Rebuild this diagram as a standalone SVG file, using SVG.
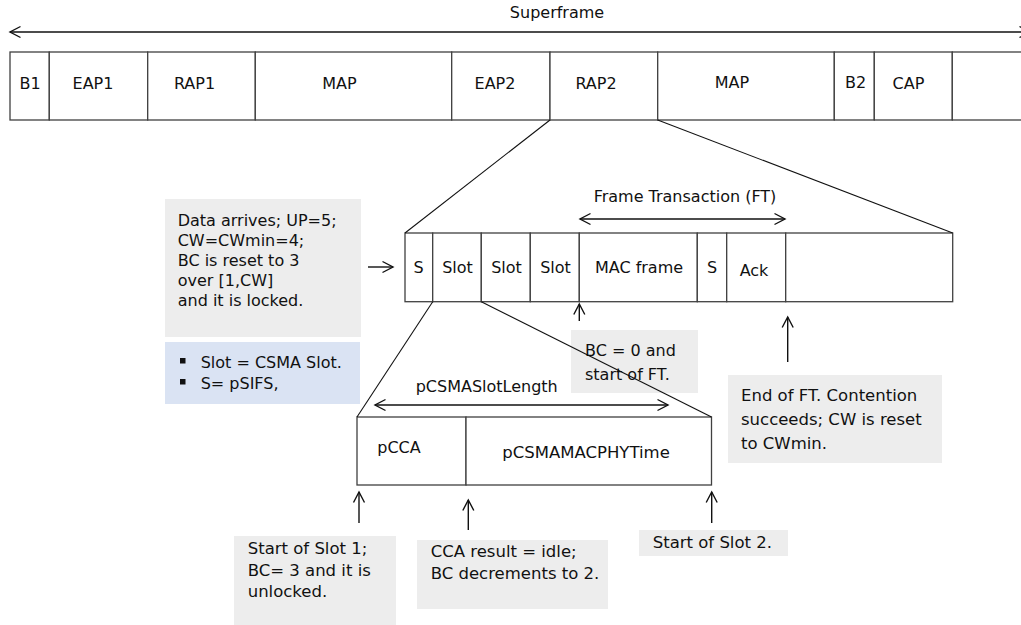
<svg xmlns="http://www.w3.org/2000/svg" width="1021" height="625" viewBox="0 0 1021 625">
<style>
  .t { font-family: "DejaVu Sans", "Liberation Sans", sans-serif; font-size: 16px; fill: #111; }
  .b { font-size: 16.5px; }
  .m { text-anchor: middle; }
  .cell { fill: #fff; stroke: #404040; stroke-width: 1.3; }
  .note { fill: #ededed; }
  .blue { fill: #dae3f3; }
  .ln { stroke: #111; stroke-width: 1.1; fill: none; }
  .arr { stroke: #111; stroke-width: 1.4; fill: none; }
  .dbl { marker-start: url(#ah); marker-end: url(#ah); }
  .one { marker-end: url(#ah); }
</style>
<defs>
  <marker id="ah" viewBox="0 0 12 12" refX="11.5" refY="6" markerWidth="12" markerHeight="12" markerUnits="userSpaceOnUse" orient="auto-start-reverse" style="overflow:visible">
    <path d="M1,0.5 L11.5,6 L1,11.5" fill="none" stroke="#111" stroke-width="1.4"/>
  </marker>
</defs>
<rect width="1021" height="625" fill="#fff"/>

<g id="superframe-label">
  <text class="t m" x="557" y="18">Superframe</text>
</g>

<g id="top-bar">
  <g id="cell-B1"><rect class="cell" x="10" y="52" width="39.3" height="68"/><text class="t m" x="30" y="89">B1</text></g>
  <g id="cell-EAP1"><rect class="cell" x="49.3" y="52" width="98.4" height="68"/><text class="t m" x="93" y="89">EAP1</text></g>
  <g id="cell-RAP1"><rect class="cell" x="147.7" y="52" width="107.6" height="68"/><text class="t m" x="194.5" y="89">RAP1</text></g>
  <g id="cell-MAP1"><rect class="cell" x="255.3" y="52" width="196.4" height="68"/><text class="t m" x="339.5" y="89">MAP</text></g>
  <g id="cell-EAP2"><rect class="cell" x="451.7" y="52" width="98.3" height="68"/><text class="t m" x="495" y="89">EAP2</text></g>
  <g id="cell-RAP2"><rect class="cell" x="550" y="52" width="107.7" height="68"/><text class="t m" x="596" y="89">RAP2</text></g>
  <g id="cell-MAP2"><rect class="cell" x="657.7" y="52" width="176.6" height="68"/><text class="t m" x="732" y="88">MAP</text></g>
  <g id="cell-B2"><rect class="cell" x="834.3" y="52" width="40" height="68"/><text class="t m" x="855.5" y="88">B2</text></g>
  <g id="cell-CAP"><rect class="cell" x="874.3" y="52" width="78" height="68"/><text class="t m" x="908.5" y="89">CAP</text></g>
  <g id="cell-rest"><rect class="cell" x="952.3" y="52" width="80" height="68"/></g>
</g>

<g id="frame-bar">
  <g id="f-S1"><rect class="cell" x="405" y="233" width="27.7" height="68.7"/><text class="t m" x="418.5" y="273">S</text></g>
  <g id="f-Slot1"><rect class="cell" x="432.7" y="233" width="48.6" height="68.7"/><text class="t m" x="457.5" y="273">Slot</text></g>
  <g id="f-Slot2"><rect class="cell" x="481.3" y="233" width="49" height="68.7"/><text class="t m" x="506.5" y="273">Slot</text></g>
  <g id="f-Slot3"><rect class="cell" x="530.3" y="233" width="49" height="68.7"/><text class="t m" x="555.5" y="273">Slot</text></g>
  <g id="f-MAC"><rect class="cell" x="579.3" y="233" width="118" height="68.7"/><text class="t m" x="639" y="273">MAC frame</text></g>
  <g id="f-S2"><rect class="cell" x="697.3" y="233" width="29.4" height="68.7"/><text class="t m" x="712" y="273">S</text></g>
  <g id="f-Ack"><rect class="cell" x="726.7" y="233" width="59" height="68.7"/><text class="t m" x="754" y="276">Ack</text></g>
  <g id="f-rest"><rect class="cell" x="785.7" y="233" width="167" height="68.7"/></g>
</g>

<g id="slot-bar">
  <g id="s-pCCA"><rect class="cell" x="357" y="417" width="109" height="68"/><text class="t m" x="399" y="453">pCCA</text></g>
  <g id="s-pCSMAMACPHYTime"><rect class="cell" x="466" y="417" width="245.5" height="68"/><text class="t b m" x="586" y="458">pCSMAMACPHYTime</text></g>
</g>

<g id="note-data-arrives">
  <rect class="note" x="165" y="199" width="196" height="138"/>
  <text class="t" x="177.7" y="226">Data arrives; UP=5;</text>
  <text class="t" x="177.7" y="246">CW=CWmin=4;</text>
  <text class="t" x="177.7" y="266">BC is reset to 3</text>
  <text class="t" x="177.7" y="286">over [1,CW]</text>
  <text class="t" x="177.7" y="306">and it is locked.</text>
</g>

<g id="legend">
  <rect class="blue" x="165" y="342" width="195" height="62"/>
  <rect x="180" y="358" width="5.5" height="5.5" fill="#111"/>
  <text class="t" x="200.7" y="368">Slot = CSMA Slot.</text>
  <rect x="180" y="379" width="5.5" height="5.5" fill="#111"/>
  <text class="t" x="200.7" y="389">S= pSIFS,</text>
</g>

<g id="note-bc0">
  <rect class="note" x="571" y="330" width="127" height="63"/>
  <text class="t" x="585" y="356">BC = 0 and</text>
  <text class="t" x="585" y="380">start of FT.</text>
</g>

<g id="note-end-ft">
  <rect class="note" x="728" y="375" width="214" height="88"/>
  <text class="t b" x="741" y="401">End of FT. Contention</text>
  <text class="t b" x="741" y="425">succeeds; CW is reset</text>
  <text class="t b" x="741" y="449">to CWmin.</text>
</g>

<g id="note-slot1">
  <rect class="note" x="234" y="536" width="162" height="95"/>
  <text class="t b" x="247.7" y="554">Start of Slot 1;</text>
  <text class="t b" x="247.7" y="576">BC= 3 and it is</text>
  <text class="t b" x="247.7" y="597">unlocked.</text>
</g>

<g id="note-cca">
  <rect class="note" x="417" y="540" width="191" height="69"/>
  <text class="t b" x="430.7" y="557">CCA result = idle;</text>
  <text class="t b" x="430.7" y="579">BC decrements to 2.</text>
</g>

<g id="note-slot2">
  <rect class="note" x="639" y="530" width="149" height="26"/>
  <text class="t b" x="652.7" y="548">Start of Slot 2.</text>
</g>

<g id="labels">
  <text class="t m" x="685" y="202">Frame Transaction (FT)</text>
  <text class="t m" x="486.7" y="392">pCSMASlotLength</text>
</g>

<g id="connectors">
  <line class="arr dbl" x1="10" y1="32" x2="1030" y2="32"/>
  <line class="ln" x1="550" y1="120" x2="405" y2="233"/>
  <line class="ln" x1="657.7" y1="120" x2="952.7" y2="233"/>
  <line class="arr dbl" x1="580" y1="219" x2="785" y2="219"/>
  <line class="arr one" x1="368" y1="267" x2="393" y2="267"/>
  <line class="ln" x1="432.7" y1="301.7" x2="357" y2="417"/>
  <line class="ln" x1="481.3" y1="301.7" x2="711.5" y2="417"/>
  <line class="arr dbl" x1="375" y1="405" x2="668" y2="405"/>
  <line class="arr one" x1="579.3" y1="321" x2="579.3" y2="304"/>
  <line class="arr one" x1="787.7" y1="362" x2="787.7" y2="317"/>
  <line class="arr one" x1="359" y1="523" x2="359" y2="492"/>
  <line class="arr one" x1="468.3" y1="530" x2="468.3" y2="500"/>
  <line class="arr one" x1="711.7" y1="523" x2="711.7" y2="492"/>
</g>
</svg>
